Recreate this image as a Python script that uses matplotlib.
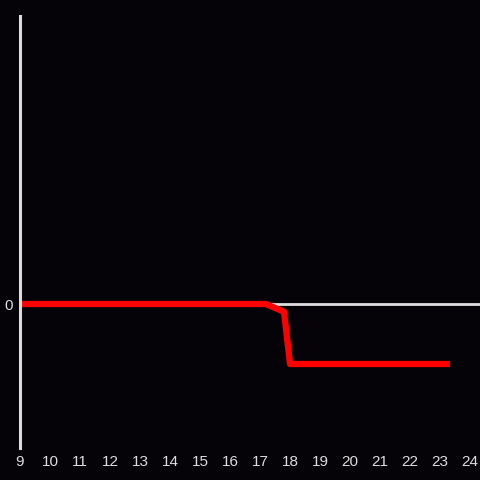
import matplotlib.pyplot as plt

# red series
x = [9, 17.2, 17.8, 18.0, 23.33]
y = [0, 0, -0.13, -1.0, -1.0]

xticks = list(range(9, 25))

bg = '#050308'
fg = '#dddddd'

fig = plt.figure(figsize=(4.8, 4.8), dpi=100, facecolor=bg)
ax = fig.add_axes([20 / 480, 32 / 480, 460 / 480, 432 / 480])
ax.set_facecolor(bg)

ax.axhline(0, color=fg, linewidth=2, zorder=1)
ax.plot(x, y, color='#ff0000', linewidth=4.5, solid_capstyle='butt', zorder=2)

ax.set_xlim(9, 9 + 460 / 30)
ax.set_ylim(-2.4, 4.8)

for s in ['top', 'right', 'bottom']:
    ax.spines[s].set_visible(False)
ax.spines['left'].set_color(fg)
ax.spines['left'].set_linewidth(2.2)

ax.set_xticks(xticks)
ax.set_xticklabels([str(t) for t in xticks])
ax.set_yticks([0])
ax.set_yticklabels(['0'])
ax.tick_params(colors=fg, length=0, labelsize=11, pad=5)
for lab in ax.get_xticklabels() + ax.get_yticklabels():
    lab.set_family('Liberation Sans')

fig.savefig('out.png', facecolor=bg)
